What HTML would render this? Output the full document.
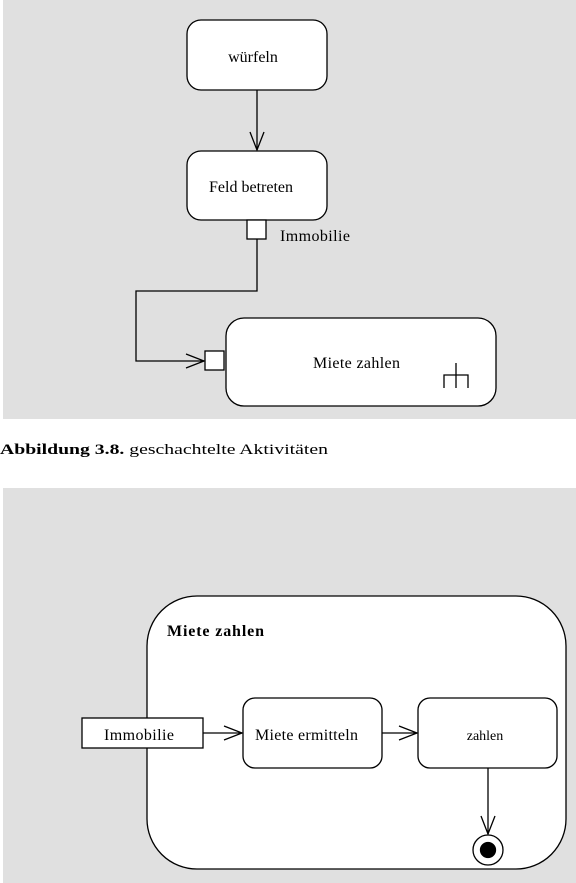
<!DOCTYPE html>
<html><head><style>body{margin:0;background:#fff}svg{display:block}text{font-family:"Liberation Serif",serif;fill:#000}</style></head>
<body>
<svg width="576" height="883" viewBox="0 0 576 883" xmlns="http://www.w3.org/2000/svg">
<rect x="3" y="0" width="573" height="419" fill="#e0e0e0"/>
<rect x="3" y="488" width="573" height="395" fill="#e0e0e0"/>
<g stroke="#000" stroke-width="1.3" fill="#fff">
<rect x="187" y="20" width="140" height="70" rx="14"/>
<rect x="187" y="151" width="140" height="69" rx="14"/>
<rect x="247" y="220" width="19" height="19"/>
<rect x="226" y="318" width="270" height="88" rx="18"/>
<rect x="205" y="351" width="19" height="19"/>
<polyline fill="none" points="257,90 257,150"/>
<polyline fill="none" points="250,132 257,150 264,132"/>
<polyline fill="none" points="257,239 257,291 136,291 136,361 204,361"/>
<polyline fill="none" points="186,354 204,361 186,368"/>
<path fill="none" d="M456,363V388M444,388V375H468V388"/>
<path d="M197,596H516A50,50 0 0 1 566,646V819A50,50 0 0 1 516,869H197A50,50 0 0 1 147,819V646A50,50 0 0 1 197,596Z"/>
<rect x="82" y="718" width="121" height="30"/>
<rect x="243" y="698" width="139" height="70" rx="12"/>
<rect x="418" y="698" width="139" height="70" rx="12"/>
<polyline fill="none" points="203,733 242,733"/>
<polyline fill="none" points="224,726 242,733 224,740"/>
<polyline fill="none" points="382,733 417,733"/>
<polyline fill="none" points="399,726 417,733 399,740"/>
<polyline fill="none" points="488,768 488,834"/>
<polyline fill="none" points="481,816 488,834 495,816"/>
<circle cx="488" cy="850" r="15"/>
<circle cx="488" cy="850" r="7.5" fill="#000"/>
</g>
<text x="253" y="62" font-size="16" text-anchor="middle">würfeln</text>
<text x="251" y="192" font-size="16" text-anchor="middle">Feld betreten</text>
<text x="280" y="241" font-size="16" textLength="70">Immobilie</text>
<text x="313" y="368" font-size="16" textLength="87">Miete zahlen</text>
<text x="0" y="454" font-size="15" textLength="328" lengthAdjust="spacingAndGlyphs"><tspan font-weight="bold">Abbildung 3.8.</tspan> geschachtelte Aktivitäten</text>
<text x="167" y="636" font-size="16" font-weight="bold" textLength="97">Miete zahlen</text>
<text x="104" y="740" font-size="16" textLength="70">Immobilie</text>
<text x="255" y="740" font-size="16" textLength="103">Miete ermitteln</text>
<text x="485" y="740" font-size="14" text-anchor="middle">zahlen</text>
</svg>
</body></html>
